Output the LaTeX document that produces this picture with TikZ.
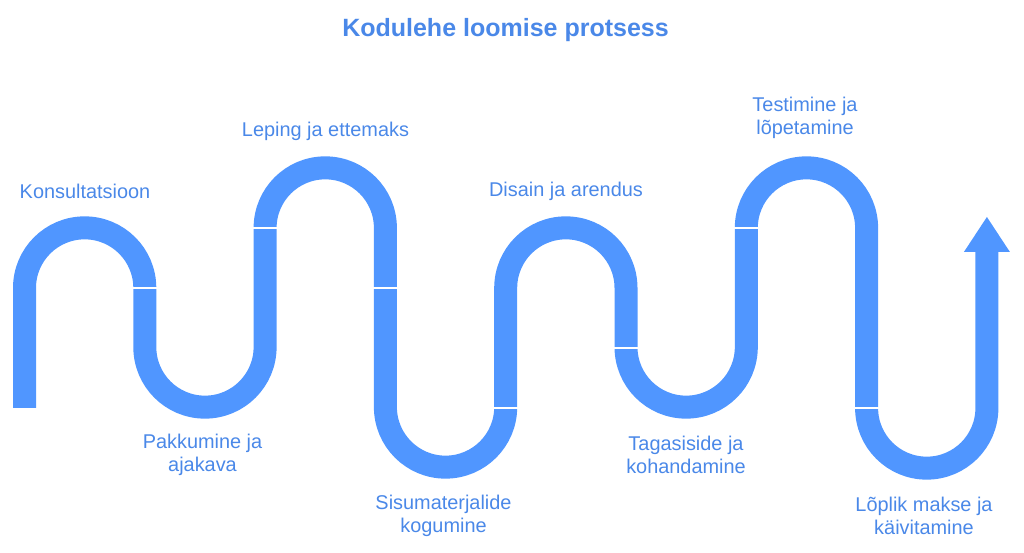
\documentclass[tikz,border=0pt]{standalone}
\usepackage{fontspec}
\setmainfont{Liberation Sans}
\usepackage{tikz}
\usetikzlibrary{arrows,calc,positioning}
\definecolor{pathblue}{RGB}{80,150,255}
\definecolor{textblue}{RGB}{74,136,232}
\tikzset{
	band/.style={draw=pathblue, line width=23pt},
	cut/.style={draw=white, line width=1.5pt},
	lbl/.style={text=textblue, align=center, font=\fontsize{19.9}{23}\selectfont, inner sep=0pt}
}

\begin{document}
\begin{tikzpicture}[x=1pt,y=1pt]
				\useasboundingbox (0,0) rectangle (1024,553);
				\node[lbl, font=\bfseries\fontsize{25}{28}\selectfont] (title) at (505.5,523) {Kodulehe loomise protsess};
				% snake
				\draw[band] (24.5,145) -- (24.5,265) arc[start angle=180, end angle=0, radius=60.15]
					-- (144.8,206) arc[start angle=180, end angle=360, radius=60.15]
					-- (265.1,325) arc[start angle=180, end angle=0, radius=60.15]
					-- (385.4,146) arc[start angle=180, end angle=360, radius=60.15]
					-- (505.7,265) arc[start angle=180, end angle=0, radius=60.15]
					-- (626,206) arc[start angle=180, end angle=360, radius=60.15]
					-- (746.3,325) arc[start angle=180, end angle=0, radius=60.15]
					-- (866.6,145) arc[start angle=180, end angle=360, radius=60.15]
					-- (986.9,302);
				\fill[pathblue] (963.9,301) -- (1009.9,301) -- (986.9,336) -- cycle;
				% joints
				\foreach \x/\y in {144.8/265, 265.1/325, 385.4/265, 505.7/145, 626/205, 746.3/325, 866.6/145}
					\draw[cut] (\x-12,\y) -- (\x+12,\y);
				% steps
				\node[lbl] (konsult) at (85,362) {Konsultatsioon};
				\node[lbl] (pakkumine) at (202.5,98) {Pakkumine ja\\ajakava};
				\node[lbl] (leping) at (325.5,422) {Leping ja ettemaks};
				\node[lbl] (sisu) at (443.5,37) {Sisumaterjalide\\kogumine};
				\node[lbl] (disain) at (566,362) {Disain ja arendus};
				\node[lbl] (tagasiside) at (686,98) {Tagasiside ja\\kohandamine};
				\node[lbl] (testimine) at (805,435) {Testimine ja\\lõpetamine};
				\node[lbl] (loplik) at (924,37) {Lõplik makse ja\\käivitamine};
	\end{tikzpicture}
\end{document}
